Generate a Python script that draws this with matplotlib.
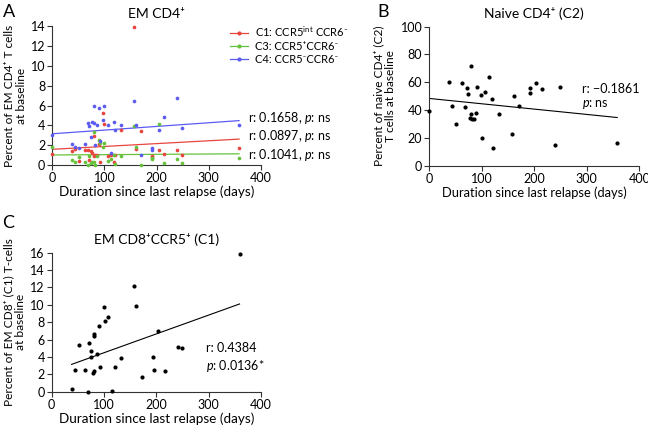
import matplotlib
matplotlib.use("Agg")
import matplotlib.pyplot as plt
import numpy as np

plt.rcParams['font.family'] = ['Lato', 'DejaVu Sans']
plt.rcParams['mathtext.fontset'] = 'custom'
plt.rcParams['mathtext.rm'] = 'Lato'
plt.rcParams['mathtext.it'] = 'Lato:italic'

# days since last relapse (shared by panel A and B)
days = [0, 37, 43, 51, 63, 68, 71, 74, 80, 77, 80, 81, 85, 89, 91, 98,
        100, 107, 113, 119, 121, 132, 157, 161, 171, 192, 192, 204, 215, 240, 249, 358]

# panel A: EM CD4+ subsets
c1_vals = [1.1, 1.4, 1.6, 0.45, 1.5, 1.55, 0.5, 1.4, 0.9, 1.2, 2.9, 1.0, 1.0, 2.1, 0.3, 5.25,
           4.2, 0.9, 1.0, 0.35, 1.0, 3.5, 13.9, 1.6, 3.45, 0.8, 0.9, 1.5, 1.15, 1.55, 1.0, 1.7]
c3_vals = [1.8, 0.5, 0.3, 0.8, 0.3, 0.0, 0.9, 0.2, 3.3, 0.3, 0.35, 0.0, 0.9, 2.55, 2.2, 1.8,
           2.2, 0.4, 0.6, 1.0, 0.1, 0.95, 3.9, 1.85, 0.0, 0.7, 0.6, 4.15, 0.2, 0.65, 0.2, 0.75]
c4_vals = [3.05, 2.15, 1.85, 1.75, 2.1, 4.25, 3.9, 2.8, 5.95, 4.35, 4.3, 2.0, 4.0, 5.8, 2.4, 4.6,
           5.95, 4.0, 1.2, 4.35, 3.5, 4.0, 6.45, 4.05, 1.0, 1.7, 1.5, 3.55, 4.85, 6.75, 3.75, 4.0]

# panel B: naive CD4+ (C2)
c2_vals = [39.6, 60.2, 43.2, 30.0, 59.5, 42.0, 55.6, 51.6, 71.5, 34.3, 37.4, 33.8, 33.6, 37.6, 56.6, 50.8,
           19.9, 52.8, 63.8, 48.2, 12.7, 37.2, 23.0, 49.9, 42.9, 55.6, 52.0, 59.5, 55.4, 14.7, 56.4, 16.3]

# panel C: EM CD8+CCR5+ (C1)
days_c = [38, 45, 53, 64, 70, 72, 75, 76, 78, 81, 81, 81, 86, 90, 92, 99,
          102, 108, 115, 121, 133, 158, 162, 172, 193, 195, 204, 216, 241, 249, 359]
cd8_vals = [0.27, 2.5, 5.35, 2.5, 0.0, 5.6, 4.05, 4.7, 2.2, 2.4, 6.7, 6.45, 4.35, 7.6, 2.9, 9.8,
            8.15, 8.6, 0.1, 2.9, 3.9, 12.2, 9.85, 1.7, 4.0, 2.5, 7.0, 2.35, 5.2, 5.0, 15.9]

a_labels = ['C1: CCR5$^{\\mathrm{int}}$ CCR6\u207b', 'C3: CCR5\u207aCCR6\u207b', 'C4: CCR5\u207bCCR6\u207b']
a_colors = ['#e8453f', '#66c23a', '#5b5bf2']
a_stats = ['r: 0.1658, $\\it{p}$: ns', 'r: 0.0897, $\\it{p}$: ns', 'r: 0.1041, $\\it{p}$: ns']

fig = plt.figure(figsize=(6.48, 4.29), dpi=100)
axA = fig.add_axes([0.0807, 0.6147, 0.322, 0.3247])
axB = fig.add_axes([0.6625, 0.6138, 0.324, 0.324])
axC = fig.add_axes([0.0798, 0.0869, 0.323, 0.324])


def style(ax, ymax, ystep, xl_size=9.7):
    ax.spines['top'].set_visible(False)
    ax.spines['right'].set_visible(False)
    for s in ['left', 'bottom']:
        ax.spines[s].set_linewidth(0.8)
        ax.spines[s].set_color('#333333')
    ax.set_xlim(0, 400)
    ax.set_ylim(0, ymax)
    ax.set_xticks(range(0, 401, 100))
    ax.set_yticks(np.arange(0, ymax + 0.1, ystep))
    ax.tick_params(length=3.5, width=0.8, labelsize=9, pad=1.5, color='#333333')
    ax.set_xlabel('Duration since last relapse (days)', fontsize=xl_size, labelpad=1)


def fit_line(ax, x, y, color, lw):
    x = np.asarray(x, float)
    k, b = np.polyfit(x, np.asarray(y, float), 1)
    xs = np.array([x.min(), x.max()])
    ax.plot(xs, k * xs + b, color=color, lw=lw, zorder=2)


# A
style(axA, 14, 2)
for vals, col, lab in zip([c1_vals, c3_vals, c4_vals], a_colors, a_labels):
    axA.scatter(days, vals, s=7, color=col, zorder=3, clip_on=False, linewidths=0)
    fit_line(axA, days, vals, col, 0.9)
    axA.plot([], [], color=col, lw=0.9, marker='o', ms=2, label=lab)
axA.legend(loc='upper left', bbox_to_anchor=(0.83, 1.04), frameon=False, fontsize=8,
           handlelength=1.6, handletextpad=0.7, labelspacing=0.15, borderaxespad=0)
for txt, yv in zip(a_stats, [4.75, 2.95, 1.05]):
    axA.text(375, yv, txt, fontsize=9, va='center', ha='left')
axA.set_ylabel('Percent of EM CD4\u207a T cells\nat baseline', fontsize=8.6, labelpad=3, linespacing=1.1)
axA.set_title('EM CD4\u207a', fontsize=10, pad=6)

# B
style(axB, 100, 20, xl_size=9.3)
axB.scatter(days, c2_vals, s=9, color='black', zorder=3, clip_on=False, linewidths=0)
fit_line(axB, days, c2_vals, 'black', 0.8)
axB.text(290, 55, 'r: \u22120.1861', fontsize=9, va='center')
axB.text(290, 44, '$\\it{p}$: ns', fontsize=9, va='center')
axB.set_ylabel('Percent of naive CD4\u207a (C2)\nT cells at baseline', fontsize=8.6, labelpad=3, linespacing=1.1)
axB.set_title('Naive CD4\u207a (C2)', fontsize=10, pad=6)

# C
style(axC, 16, 2)
axC.scatter(days_c, cd8_vals, s=9, color='black', zorder=3, clip_on=False, linewidths=0)
fit_line(axC, days_c, cd8_vals, 'black', 0.8)
axC.text(295, 5.0, 'r: 0.4384', fontsize=9, va='center')
axC.text(295, 3.0, '$\\it{p}$: 0.0136*', fontsize=9, va='center')
axC.set_ylabel('Percent of EM CD8\u207a (C1) T-cells\nat baseline', fontsize=8.6, labelpad=3, linespacing=1.1)
axC.set_title('EM CD8\u207aCCR5\u207a (C1)', fontsize=10, pad=6)

fig.text(0.004, 0.99, 'A', fontsize=13, va='top')
fig.text(0.582, 0.99, 'B', fontsize=13, va='top')
fig.text(0.004, 0.50, 'C', fontsize=13, va='top')

fig.savefig('out.png', dpi=100)
